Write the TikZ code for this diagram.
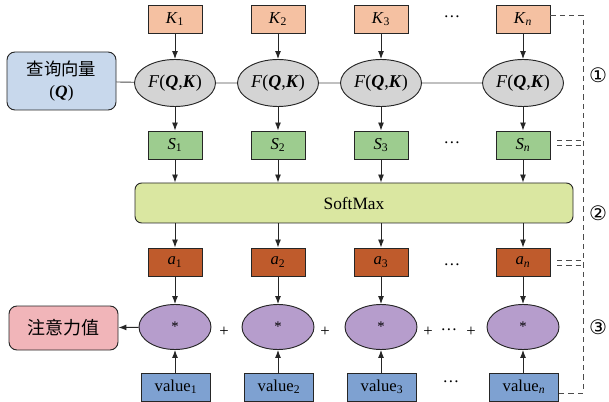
\documentclass[tikz,border=0pt]{standalone}
\usepackage{fontspec}
\setmainfont{Liberation Serif}
\newfontfamily\cjk{Noto Sans CJK SC}
\newfontfamily\sym{DejaVu Sans}
\usetikzlibrary{arrows.meta,shapes.geometric}
\definecolor{kcol}{HTML}{F5C1A2}
\definecolor{scol}{HTML}{9DCC8F}
\definecolor{acol}{HTML}{BF5B2C}
\definecolor{vcol}{HTML}{7EA1D1}
\definecolor{pcol}{HTML}{B69DCC}
\definecolor{gcol}{HTML}{D4D4D4}
\definecolor{qcol}{HTML}{C8D8EC}
\definecolor{rcol}{HTML}{F1B5B9}
\definecolor{smcol}{HTML}{DAE7A1}
\tikzset{
  box/.style={draw=black!85, line width=0.7pt, minimum width=40.5pt, minimum height=21pt, inner sep=0pt, font=\fontsize{12.5}{14}\selectfont},
  kbox/.style={box, fill=kcol},
  sbox/.style={box, fill=scol},
  abox/.style={box, fill=acol},
  vbox/.style={box, fill=vcol, minimum width=52pt},
  fell/.style={ellipse, draw=black!85, line width=0.7pt, fill=gcol, minimum width=60.75pt, minimum height=35.25pt, inner sep=0pt, font=\fontsize{13.5}{15}\selectfont},
  pell/.style={ellipse, draw=black!85, line width=0.7pt, fill=pcol, minimum width=54pt, minimum height=33.75pt, inner sep=0pt, font=\fontsize{11}{12}\selectfont},
  arr/.style={-{Latex[length=6pt,width=4.5pt]}, line width=0.7pt, draw=black!85},
  conn/.style={line width=0.7pt, draw=black!70},
  dsh/.style={dashed, line width=0.7pt, draw=black!70, dash pattern=on 4pt off 3pt},
  lbl/.style={font=\fontsize{12.5}{14}\selectfont, inner sep=0pt},
  circ/.style={font=\sym\fontsize{15}{17}\selectfont, inner sep=0pt},
}
\begin{document}
\begin{tikzpicture}[x=0.75pt,y=-0.75pt]
\useasboundingbox (0,0) rectangle (609,402);
% query box
\node[draw=black!85, line width=0.7pt, fill=qcol, rounded corners=6pt, minimum width=81.75pt, minimum height=43.5pt, align=center, inner sep=0pt, font=\fontsize{13}{17}\selectfont] (q) at (61.5,81) {{\cjk 查询向量}\\(\textbf{\textit{Q}})};
% result box
\node[draw=black!85, line width=0.7pt, fill=rcol, rounded corners=6pt, minimum width=81.75pt, minimum height=33pt, inner sep=0pt, font=\cjk\fontsize{13.5}{15}\selectfont] (res) at (63.5,328) {注意力值};
% softmax
\node[draw=black!85, line width=0.7pt, fill=smcol, rounded corners=5pt, minimum width=328.5pt, minimum height=30pt, inner sep=0pt, font=\fontsize{13}{15}\selectfont] (sm) at (354,203) {SoftMax};
% columns
\foreach \i/\x/\s in {1/175/1, 2/278/2, 3/381/3, n/523/\textit{n}}{
  \node[kbox] (K\i) at (\x,19) {\textit{K}\textsubscript{\s}};
  \node[fell] (F\i) at (\x,83) {\textit{F}(\textbf{\textit{Q}},\textbf{\textit{K}})};
  \node[sbox] (S\i) at (\x,145) {\textit{S}\textsubscript{\s}};
  \node[abox] (a\i) at (\x,262) {\textit{a}\textsubscript{\s}};
  \node[pell] (P\i) at (\x,327) {*};
  \node[vbox] (V\i) at (\x+1,387) {value\textsubscript{\s}};
  \draw[arr] (K\i) -- (F\i);
  \draw[arr] (F\i) -- (S\i);
  \draw[arr] (S\i) -- (S\i |- sm.north);
  \draw[arr] (sm.south -| a\i) -- (a\i);
  \draw[arr] (a\i) -- (P\i);
  \draw[arr] (V\i.north -| P\i) -- (P\i);
}
\draw[conn] (q) -- (F1) -- (F2) -- (F3) -- (Fn);
\draw[arr] (P1) -- (res);
% dots and plus signs
\node[lbl] (d1) at (452,17) {\dots};
\node[lbl] (d2) at (452,143) {\dots};
\node[lbl] (d3) at (452,265) {\dots};
\node[lbl] (d4) at (451,382) {\dots};
\node[lbl] (p1) at (224,332) {+};
\node[lbl] (p2) at (325,332) {+};
\node[lbl] (p3) at (428,332) {+};
\node[lbl] (d5) at (449,330) {\dots};
\node[lbl] (p4) at (471,332) {+};
% dashed bracket
\coordinate (b1) at (583,15);
\coordinate (b2) at (583,393);
\draw[dsh] (Kn.east |- b1) -- (b1) -- (b2) -- (Vn.east |- b2);
\coordinate (t1) at (583,140);
\coordinate (t2) at (583,145);
\coordinate (t3) at (583,260);
\coordinate (t4) at (583,265);
\draw[dsh] (557,140) -- (t1);
\draw[dsh] (557,145) -- (t2);
\draw[dsh] (557,260) -- (t3);
\draw[dsh] (557,265) -- (t4);
\node[circ] (c1) at (598,75) {①};
\node[circ] (c2) at (598,213) {②};
\node[circ] (c3) at (598,327) {③};
\end{tikzpicture}
\end{document}
